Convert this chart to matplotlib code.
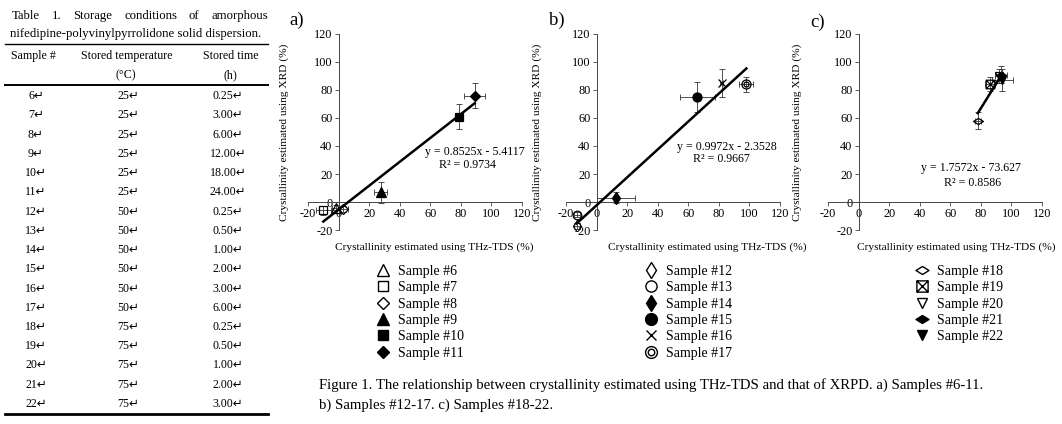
import matplotlib
matplotlib.use('Agg')
import matplotlib.pyplot as plt
from matplotlib.lines import Line2D
from matplotlib.path import Path

plt.rcParams['font.family'] = ['Liberation Serif', 'DejaVu Sans']
plt.rcParams['axes.unicode_minus'] = False

# ---- table data ----
sample_no = ['6', '7', '8', '9', '10', '11', '12', '13', '14', '15', '16', '17',
             '18', '19', '20', '21', '22']
stored_temp = ['25', '25', '25', '25', '25', '25', '50', '50', '50', '50', '50', '50',
               '75', '75', '75', '75', '75']
stored_time = ['0.25', '3.00', '6.00', '12.00', '18.00', '24.00', '0.25', '0.50', '1.00',
               '2.00', '3.00', '6.00', '0.25', '0.50', '1.00', '2.00', '3.00']

# ---- chart data ----
a_labels = ['Sample #6', 'Sample #7', 'Sample #8', 'Sample #9', 'Sample #10', 'Sample #11']
a_x = [-2, -10, 3, 27.5, 79, 89]
a_y = [-4, -6, -5, 7, 61, 76]
a_xerr = [2, 5, 3, 4, 2, 7]
a_yerr = [2, 3, 2, 7.5, 9, 9]

b_labels = ['Sample #12', 'Sample #13', 'Sample #14', 'Sample #15', 'Sample #16', 'Sample #17']
b_x = [-13, -13, 12.5, 66, 82, 98]
b_y = [-17, -9, 3, 75, 85, 84]
b_xerr = [2, 2, 12.5, 11.5, 1, 4.5]
b_yerr = [2, 2, 4, 10.5, 10, 5.5]

c_labels = ['Sample #18', 'Sample #19', 'Sample #20', 'Sample #21', 'Sample #22']
c_x = [78, 86, 92, 93, 94]
c_y = [58, 84, 90, 91, 87]
c_xerr = [2, 3, 3, 4, 7]
c_yerr = [6, 5, 5, 6, 8]

fit_slope = [0.8525, 0.9972, 1.7572]
fit_icpt = [-5.4117, -2.3528, -73.627]
fit_r2 = [0.9734, 0.9667, 0.8586]

W, H = 1062, 424


def fx(px):
    return px / W


def fy(py):
    return 1 - py / H


# custom markers
wide_diamond = Path([(-1, 0), (0, 0.62), (1, 0), (0, -0.62), (-1, 0)],
                    [Path.MOVETO, Path.LINETO, Path.LINETO, Path.LINETO, Path.CLOSEPOLY])
box_x = Path([(-1, -1), (1, -1), (1, 1), (-1, 1), (-1, -1),
              (-1, -1), (1, 1), (-1, 1), (1, -1)],
             [Path.MOVETO, Path.LINETO, Path.LINETO, Path.LINETO, Path.CLOSEPOLY,
              Path.MOVETO, Path.LINETO, Path.MOVETO, Path.LINETO])
dbl_circle = Path.make_compound_path(Path.circle((0, 0), 1.0), Path.circle((0, 0), 0.55))

a_styles = [('^', 'none', 1.0), ('s', 'none', 0.9), ('D', 'none', 0.75),
            ('^', 'k', 1.0), ('s', 'k', 0.9), ('D', 'k', 0.75)]
b_styles = [('d', 'none', 1.0), ('o', 'none', 0.95), ('d', 'k', 1.0),
            ('o', 'k', 1.0), ('x', 'k', 0.8), (dbl_circle, 'none', 1.0)]
c_styles = [(wide_diamond, 'none', 1.1), (box_x, 'none', 0.95), ('v', 'none', 0.9),
            (wide_diamond, 'k', 1.1), ('v', 'k', 0.9)]

fig = plt.figure(figsize=(10.62, 4.24), dpi=100)

# ---------------- table ----------------
tfont = 8.6
renderer = fig.canvas.get_renderer()
words = ['Table', '1.', 'Storage', 'conditions', 'of', 'amorphous']
texts = [fig.text(0, fy(16), w, fontsize=9.2, va='center') for w in words]
widths = [t.get_window_extent(renderer).width for t in texts]
gap = (268 - 12 - sum(widths)) / (len(words) - 1)
xpos = 12
for t, wd in zip(texts, widths):
    t.set_x(fx(xpos))
    xpos += wd + gap
fig.text(fx(10), fy(34), 'nifedipine-polyvinylpyrrolidone solid dispersion.',
         fontsize=9.2, va='center')

for yy, lw in [(44, 1.0), (85, 1.4), (414, 2.0)]:
    fig.add_artist(Line2D([fx(5), fx(268)], [fy(yy), fy(yy)],
                          transform=fig.transFigure, color='k', lw=lw))

fig.text(fx(33), fy(56), 'Sample #', fontsize=tfont, ha='center', va='center')
fig.text(fx(127), fy(56), 'Stored temperature', fontsize=tfont, ha='center', va='center')
fig.text(fx(126), fy(75), '(°C)', fontsize=tfont, ha='center', va='center')
fig.text(fx(231), fy(56), 'Stored time', fontsize=tfont, ha='center', va='center')
fig.text(fx(230), fy(75), '(h)', fontsize=tfont, ha='center', va='center')

for i in range(len(sample_no)):
    yy = 96 + 19.25 * i
    fig.text(fx(36), fy(yy), sample_no[i] + '\u21b5', fontsize=tfont, ha='center', va='center')
    fig.text(fx(128), fy(yy), stored_temp[i] + '\u21b5', fontsize=tfont, ha='center', va='center')
    fig.text(fx(228), fy(yy), stored_time[i] + '\u21b5', fontsize=tfont, ha='center', va='center')

# ---------------- scatter panels ----------------
panels = [
    (a_labels, a_x, a_y, a_xerr, a_yerr, a_styles, 308, 'a)', (297, 20), -0.089, 0.59,
     (475, 152), (467, 165), 383),
    (b_labels, b_x, b_y, b_xerr, b_yerr, b_styles, 566, 'b)', (557, 20), -0.112, 0.66,
     (727, 147), (721, 159), 651),
    (c_labels, c_x, c_y, c_xerr, c_yerr, c_styles, 828, 'c)', (818, 22), -0.12, 0.60,
     (971, 168), (973, 183), 922),
]

for k, (labels, xs, ys, xe, ye, styles, left, tag, tagpos, ylx, xlx, eq1, eq2, legx) in enumerate(panels):
    ax = fig.add_axes([fx(left), fy(230), 214 / W, 196 / H])
    ax.set_xlim(-20, 120)
    ax.set_ylim(-20, 120)
    ax.spines['left'].set_position(('data', 0))
    ax.spines['bottom'].set_position(('data', 0))
    ax.spines['right'].set_visible(False)
    ax.spines['top'].set_visible(False)
    for s in ['left', 'bottom']:
        ax.spines[s].set_color('#444444')
        ax.spines[s].set_linewidth(0.7)
    ax.set_xticks(range(-20, 121, 20))
    ax.set_yticks(range(-20, 121, 20))
    ax.tick_params(direction='out', length=3, width=0.6, color='#444444',
                   labelsize=8.8, pad=1.5)
    ax.patch.set_alpha(0)

    ax.errorbar(xs, ys, xerr=xe, yerr=ye, fmt='none', ecolor='#333333',
                elinewidth=0.6, capsize=2, capthick=0.6, zorder=2)
    x0, x1 = min(xs), max(xs)
    ax.plot([x0, x1], [fit_slope[k] * x0 + fit_icpt[k], fit_slope[k] * x1 + fit_icpt[k]],
            color='k', lw=1.8, zorder=3)

    handles = []
    for xi, yi, (m, fc, sc) in zip(xs, ys, styles):
        ax.plot([xi], [yi], ls='none', marker=m, ms=6.5 * sc, mfc=fc, mec='k',
                mew=0.9, zorder=4)
        handles.append(Line2D([], [], ls='none', marker=m, ms=8.5 * sc, mfc=fc,
                              mec='k', mew=1.0))

    ax.set_xlabel('Crystallinity estimated using THz-TDS (%)', fontsize=8.2)
    ax.xaxis.set_label_coords(xlx, -0.061)
    ax.set_ylabel('Crystallinity estimated using XRD (%)', fontsize=8.2)
    ax.yaxis.set_label_coords(ylx, 0.5)

    fig.text(fx(tagpos[0]), fy(tagpos[1]), tag, fontsize=13.5, ha='center', va='center')
    sign = '-' if fit_icpt[k] < 0 else '+'
    fig.text(fx(eq1[0]), fy(eq1[1]),
             'y = %sx %s %s' % (format(fit_slope[k], '.5g'), sign, format(abs(fit_icpt[k]), '.5g')),
             fontsize=8.6, ha='center', va='center')
    fig.text(fx(eq2[0]), fy(eq2[1]), 'R² = %s' % format(fit_r2[k], '.4g'),
             fontsize=8.6, ha='center', va='center')

    fig.legend(handles, labels, loc='upper left', bbox_to_anchor=(fx(legx - 7), fy(265)),
               frameon=False, handlelength=1.0, handletextpad=0.6, labelspacing=0.24,
               borderpad=0, borderaxespad=0, fontsize=10)

fig.text(fx(319), fy(385),
         'Figure 1. The relationship between crystallinity estimated using THz-TDS and that of XRPD. a) Samples #6-11.',
         fontsize=10.6, va='center')
fig.text(fx(319), fy(405), 'b) Samples #12-17. c) Samples #18-22.', fontsize=10.6, va='center')

fig.savefig('out.png', dpi=100)
